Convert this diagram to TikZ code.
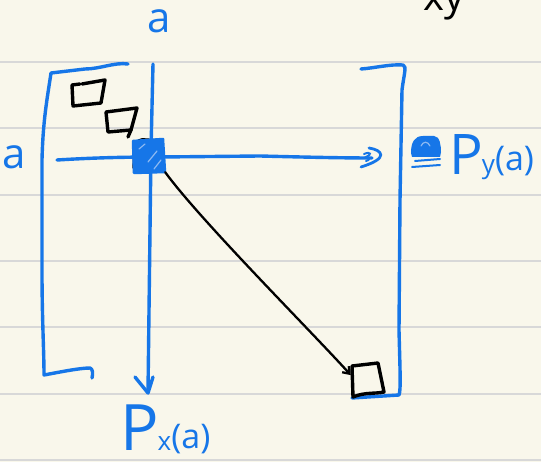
\documentclass[tikz,border=0pt]{standalone}
\usepackage{fontspec}
\setmainfont{Open Sans}
\usetikzlibrary{arrows.meta}
\definecolor{ink}{RGB}{22,118,232}
\definecolor{paper}{RGB}{249,247,235}
\definecolor{ruling}{RGB}{216,216,216}
\definecolor{hatch}{RGB}{140,185,242}

\begin{document}
\begin{tikzpicture}[x=1pt,y=-1pt,
  blueline/.style={draw=ink,line width=3.4pt,line cap=round,line join=round},
  pen/.style={draw=black,line width=3.4pt,line cap=round,line join=round},
  link/.style={draw=black,line width=2.3pt,line cap=round,
    -{Straight Barb[length=6pt,width=9pt,line width=2.3pt]}},
  lbl/.style={text=ink,inner sep=0pt,font=\fontsize{42}{42}\selectfont},
  anchorbox/.style={draw=none,inner sep=0pt,minimum width=#1,minimum height=#1},
]
\useasboundingbox (0,0) rectangle (541,462);
\clip (0,0) rectangle (541,462);

% ruled paper
\fill[paper] (0,0) rectangle (541,462);
\foreach \yy in {62,128,195,261,327,394,460}
  \draw[ruling,line width=1.5pt] (0,\yy) -- (541,\yy);

% heading running off the top edge
\node[anchor=base west,inner sep=0pt,font=\fontsize{40}{40}\selectfont] (head) at (423,11) {xy};

% matrix brackets
\draw[blueline] (128,64) .. controls (115,62) and (100,69) .. (85,69) -- (51,73)
  .. controls (47,100) and (43,120) .. (42,160) -- (42,270)
  .. controls (42,320) and (44,350) .. (44,375)
  .. controls (60,372) and (80,368) .. (90,368)
  .. controls (93,369) and (93,374) .. (92,378);
\draw[blueline] (361,69) .. controls (375,68) and (390,64) .. (403,65)
  .. controls (407,66) and (404,74) .. (402,90) -- (400,200) -- (399,330)
  .. controls (400,370) and (401,390) .. (399,395) -- (352,398);

% diagonal cells
\draw[pen] (82,84) -- (105,80) -- (101,103) -- (73,106) -- (72,85) -- (80,84);
\draw[pen] (106,112) -- (137,108) -- (131,130) -- (108,132) -- cycle;
\draw[pen] (131,130) -- (128,137);
\draw[pen] (134,168) -- (135,146) .. controls (137,141) and (141,139) .. (146,140) -- (160,141);

% row and column through the selected cell
\draw[blueline] (153,64) -- (151,150) -- (148,392);
\draw[blueline] (135,377) -- (148,393) -- (153,377);
\draw[blueline] (57,160) .. controls (90,158) and (120,157) .. (160,157) -- (260,156)
  .. controls (300,157) and (340,158) .. (372,158);
\draw[blueline,line width=2.8pt] (369,148) .. controls (382,150) and (390,158) .. (361,167);
\draw[ink,line width=2pt,line cap=round] (364,154) .. controls (371,151) and (372,155) .. (366,157) .. controls (370,158) and (370,160) .. (366,161);

% selected cell (hatched)
\node[anchorbox=32pt] (hub) at (149,156) {};
\fill[ink] (133,141) -- (163,139) -- (165,172) -- (134,173) -- cycle;
\draw[ink,line width=2.5pt,line join=round] (133,141) -- (163,139) -- (165,172) -- (134,173) -- cycle;
\draw[hatch,line width=1.2pt,line cap=round] (139,149) -- (145,144);
\draw[hatch,line width=1.2pt,line cap=round] (148,162) -- (157,151);
\draw[hatch,line width=1.2pt,line cap=round] (154,169) -- (161,160);

% target cell at the bottom right
\node[anchorbox=32pt] (tgt) at (367,381) {};
\draw[pen] (352,366) -- (378,363) -- (384,392) .. controls (375,394) and (365,392) .. (353,397) -- cycle;

% jump from the selected cell to the target cell
\draw[link] (hub.south east) .. controls (200,220) and (310,330) .. (tgt.160);

% labels
\node[lbl] (atop) at (159,21) {a};
\node[lbl] (aleft) at (14,157) {a};
\fill[ink] (411,153) .. controls (411,143) and (414,136) .. (423,136) -- (434,136)
  .. controls (440,136) and (441,146) .. (441,152) -- (440,157) -- (412,157) -- cycle;
\draw[hatch,line width=1.2pt,line cap=round] (421,146) .. controls (423,141) and (428,141) .. (430,146);
\draw[ink,line width=2pt,line cap=round] (415,161) -- (440,159);
\draw[ink,line width=2pt,line cap=round] (412,167) -- (440,165);
\node[lbl,anchor=base west] (py) at (449,175)
  {{\fontsize{56}{56}\selectfont P}\kern-1pt\raisebox{1pt}{\fontsize{26}{26}\selectfont y}\raisebox{4pt}{\fontsize{34}{34}\selectfont(a)}};
\node[lbl,anchor=base west] (px) at (120,450)
  {{\fontsize{64}{64}\selectfont P}\kern-1pt{\fontsize{26}{26}\selectfont x}\raisebox{2pt}{\fontsize{34}{34}\selectfont(a)}};
\end{tikzpicture}
\end{document}
